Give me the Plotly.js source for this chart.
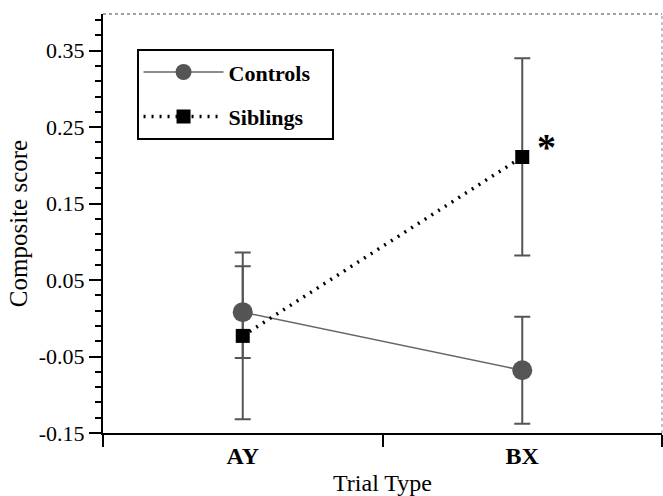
<!DOCTYPE html>
<html>
<head>
<meta charset="utf-8">
<script src="https://cdn.plot.ly/plotly-3.0.1.min.js"></script>
<style>html,body{margin:0;padding:0;background:#fff;}#chart{width:663px;height:496px;}</style>
</head>
<body>
<div id="chart"></div>
<script>
var categories = ["AY", "BX"];
var controlsMean = [0.008, -0.068];
var controlsErr = [0.060, 0.070];
var siblingsMean = [-0.023, 0.211];
var siblingsErr = [0.109, 0.129];
var yTickVals = [-0.15, -0.05, 0.05, 0.15, 0.25, 0.35];
var yTickText = ["-0.15", "-0.05", "0.05", "0.15", "0.25", "0.35"];
var seriesNames = ["Controls", "Siblings"];

var serif = "Liberation Serif, Times New Roman, serif";

var traces = [
  {
    x: categories, y: controlsMean, name: seriesNames[0] + "\u00a0\u00a0\u00a0", type: "scatter", mode: "lines+markers",
    legendgroup: "a",
    line: {color: "#666666", width: 1.6},
    marker: {symbol: "circle", size: 20, color: "#555555"},
    error_y: {type: "data", array: controlsErr, visible: true, color: "#555555", thickness: 2, width: 8}
  },
  {
    x: categories, y: siblingsMean, name: seriesNames[1] + "\u00a0\u00a0\u00a0", type: "scatter", mode: "lines+markers",
    legendgroup: "b",
    line: {color: "#000000", width: 3.5, dash: "2px,6px"},
    marker: {symbol: "square", size: 14, color: "#000000"},
    error_y: {type: "data", array: siblingsErr, visible: true, color: "#555555", thickness: 2, width: 8}
  }
];

var layout = {
  width: 663, height: 496,
  margin: {l: 103, r: 1, t: 14, b: 63},
  paper_bgcolor: "#ffffff", plot_bgcolor: "#ffffff",
  font: {family: serif, color: "#000000", size: 22},
  showlegend: true,
  legend: {
    x: 0.060, y: 0.916, xanchor: "left", yanchor: "top",
    bordercolor: "#000000", borderwidth: 2, bgcolor: "#ffffff",
    font: {family: serif, size: 22, weight: "bold"},
    traceorder: "grouped", tracegroupgap: 13, itemwidth: 80
  },
  xaxis: {
    type: "category", categoryarray: categories, range: [-0.5, 1.5],
    tickson: "boundaries", ticks: "outside", ticklen: 12, tickwidth: 2, tickcolor: "#000",
    showline: true, linecolor: "#000", linewidth: 2, showgrid: false, zeroline: false,
    tickfont: {family: serif, size: 24, weight: "bold"},
    title: {text: "Trial Type", font: {family: serif, size: 24}, standoff: 6},
    automargin: false, fixedrange: true
  },
  yaxis: {
    range: [-0.15, 0.398],
    tickvals: yTickVals, ticktext: yTickText,
    ticks: "outside", ticklen: 12, tickwidth: 2, tickcolor: "#000",
    minor: {tick0: -0.15, dtick: 0.02, ticks: "outside", ticklen: 6, tickwidth: 2, tickcolor: "#000", showgrid: false},
    showline: true, linecolor: "#000", linewidth: 2, showgrid: false, zeroline: false,
    tickfont: {family: serif, size: 22},
    title: {text: "Composite score", font: {family: serif, size: 25}, standoff: 4},
    automargin: false, fixedrange: true
  },
  shapes: [
    {type: "line", xref: "paper", yref: "paper", x0: 0, x1: 1, y0: 1, y1: 1, line: {color: "#444", width: 1.2, dash: "dot"}},
    {type: "line", xref: "paper", yref: "paper", x0: 1, x1: 1, y0: 0, y1: 1, line: {color: "#888", width: 1, dash: "dot"}}
  ],
  annotations: [
    {x: "BX", y: siblingsMean[1], xref: "x", yref: "y", text: "*", showarrow: false,
     xshift: 24, yshift: 10, font: {family: serif, size: 38, weight: "bold"}}
  ]
};

Plotly.newPlot("chart", traces, layout, {displayModeBar: false, staticPlot: true});
</script>
</body>
</html>
